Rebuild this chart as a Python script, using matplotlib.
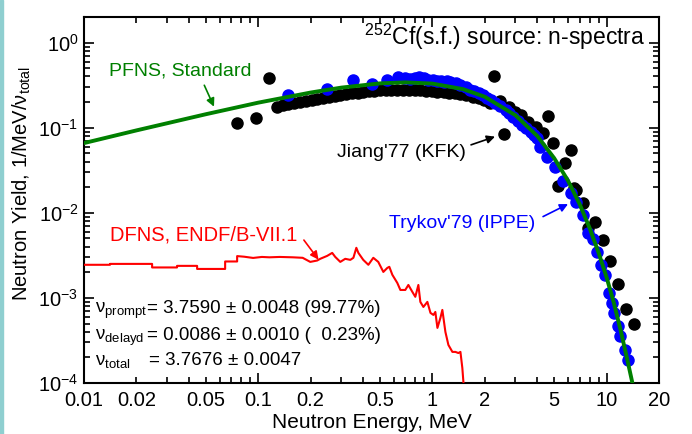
import matplotlib
matplotlib.use('Agg')
import matplotlib.pyplot as plt
from matplotlib.patches import Rectangle
from matplotlib.ticker import FixedLocator, FuncFormatter, LogLocator

plt.rcParams['font.family'] = ['Liberation Sans', 'DejaVu Sans']
plt.rcParams['mathtext.fontset'] = 'custom'
plt.rcParams['mathtext.rm'] = 'Liberation Sans'
plt.rcParams['mathtext.default'] = 'regular'

# PFNS standard
pfns_e = [0.01, 0.02, 0.05, 0.1, 0.2, 0.3, 0.5, 0.7, 1.0, 1.5, 2.0, 3.0, 4.0, 5.0,
          6.0, 7.0, 8.0, 9.0, 10.0, 11.0, 12.0, 13.0, 14.0, 14.5]
pfns_y = [0.066, 0.093, 0.144, 0.197, 0.259, 0.296, 0.332, 0.341, 0.330, 0.284,
          0.231, 0.140, 0.080, 0.044, 0.024, 0.0127, 0.0066, 0.0034, 0.00175,
          0.00088, 0.00043, 0.00021, 0.000105, 0.00007]

# DFNS, ENDF/B-VII.1 (red)
dfns_e = [0.01, 0.0141, 0.0141, 0.0246, 0.0246, 0.0342, 0.0342, 0.0446, 0.0446,
          0.0646, 0.0646, 0.0757, 0.0757, 0.083, 0.0935, 0.105, 0.116, 0.133, 0.158,
          0.180, 0.199, 0.218, 0.227, 0.249, 0.266, 0.277, 0.296, 0.316, 0.338,
          0.352, 0.366, 0.376, 0.401, 0.429, 0.458, 0.489, 0.523, 0.551, 0.566,
          0.589, 0.629, 0.655, 0.699, 0.728, 0.767, 0.798, 0.831, 0.853, 0.888,
          0.936, 0.975, 1.014, 1.040, 1.069, 1.112, 1.141, 1.188, 1.236, 1.303,
          1.356, 1.410, 1.449, 1.486, 1.507, 1.52]
dfns_y = [0.00245, 0.00245, 0.00251, 0.00251, 0.00228, 0.00228, 0.00238, 0.00238,
          0.00219, 0.00219, 0.00268, 0.00268, 0.00310, 0.00305, 0.00295, 0.00303,
          0.00300, 0.00303, 0.00300, 0.00296, 0.00265, 0.00275, 0.00288, 0.00312,
          0.00338, 0.00303, 0.00265, 0.00288, 0.00280, 0.00296, 0.00388, 0.00338,
          0.00280, 0.00245, 0.00296, 0.00265, 0.00202, 0.00225, 0.00232, 0.00187,
          0.00150, 0.00124, 0.00124, 0.00142, 0.00118, 0.00103, 0.00142, 0.000898,
          0.000783, 0.000898, 0.000667, 0.000631, 0.000684, 0.000444, 0.000582,
          0.000723, 0.000398, 0.00028, 0.000232, 0.000232, 0.000225, 0.000232,
          0.00015, 0.000103, 0.00009]

# Jiang'77 (KFK), black points
jiang_e = [0.0757, 0.0974, 0.1156, 0.128, 0.138, 0.149, 0.161, 0.174, 0.188, 0.203,
           0.219, 0.236, 0.255, 0.275, 0.296, 0.32, 0.345, 0.372, 0.40, 0.43, 0.465,
           0.50, 0.54, 0.58, 0.63, 0.68, 0.73, 0.79, 0.853, 0.92, 0.99, 1.07, 1.16,
           1.25, 1.35, 1.45, 1.57, 1.70, 1.84, 1.99, 2.15, 2.27, 2.46, 2.59, 2.75,
           3.0, 3.21, 3.56, 3.91, 4.29, 4.64, 4.90, 5.23, 5.81, 6.21, 6.46, 6.7,
           7.28, 7.78, 8.64, 9.48, 10.5, 11.6, 12.9, 14.3]
jiang_y = [0.115, 0.131, 0.388, 0.177, 0.184, 0.19, 0.196, 0.202, 0.208, 0.214,
           0.22, 0.226, 0.232, 0.238, 0.244, 0.249, 0.254, 0.259, 0.264, 0.268,
           0.272, 0.276, 0.278, 0.28, 0.281, 0.281, 0.28, 0.278, 0.275, 0.272,
           0.269, 0.266, 0.262, 0.258, 0.254, 0.249, 0.241, 0.232, 0.222, 0.21,
           0.197, 0.409, 0.205, 0.085, 0.175, 0.155, 0.142, 0.118, 0.103, 0.0873,
           0.138, 0.0667, 0.0208, 0.0387, 0.0551, 0.0197, 0.0185, 0.0131, 0.00667,
           0.00784, 0.00481, 0.00272, 0.00146, 0.00074, 0.000494]

# Trykov'79 (IPPE), blue points
trykov_e = [0.149, 0.249, 0.351, 0.452, 0.551, 0.638, 0.70, 0.748, 0.80, 0.842,
            0.90, 0.948, 1.01, 1.07, 1.12, 1.16, 1.22, 1.27, 1.36, 1.45, 1.55, 1.65,
            1.74, 1.84, 1.95, 2.07, 2.18, 2.30, 2.46, 2.63, 2.77, 2.92, 3.10, 3.29,
            3.47, 3.66, 3.83, 4.01, 4.17, 4.58, 5.09, 5.62, 6.21, 6.64, 7.28, 7.78,
            8.31, 8.77, 9.24, 9.74, 10.3, 10.7, 11.1, 11.7, 12.0, 12.7, 13.2]
trykov_y = [0.244, 0.288, 0.367, 0.33, 0.367, 0.398, 0.385, 0.377, 0.385, 0.398,
            0.38, 0.367, 0.36, 0.357, 0.35, 0.348, 0.35, 0.348, 0.335, 0.32, 0.30,
            0.28, 0.27, 0.258, 0.24, 0.226, 0.21, 0.197, 0.18, 0.163, 0.148, 0.135,
            0.12, 0.108, 0.098, 0.0898, 0.082, 0.0762, 0.0597, 0.0456, 0.0348,
            0.0238, 0.0172, 0.0135, 0.00947, 0.00582, 0.00494, 0.00348, 0.00245,
            0.00187, 0.00115, 0.00087, 0.00067, 0.00047, 0.000357, 0.000244, 0.000187]

x_labels = {0.01: '0.01', 0.02: '0.02', 0.05: '0.05', 0.1: '0.1', 0.2: '0.2',
            0.5: '0.5', 1.0: '1', 2.0: '2', 5.0: '5', 10.0: '10', 20.0: '20'}

fig = plt.figure(figsize=(6.92, 4.34), dpi=100)
ax = fig.add_axes([0.1214, 0.1175, 0.8309, 0.8433])

# thin coloured strip on the left edge of the picture
fig.patches.append(Rectangle((0, 0), 3 / 692, 1, transform=fig.transFigure,
                             color='#8fcfd0', zorder=0))

ax.plot(jiang_e, jiang_y, 'o', color='black', ms=8, zorder=2)
ax.plot(trykov_e, trykov_y, 'o', color='#0000ff', ms=8, zorder=3)
ax.plot(dfns_e, dfns_y, color='#ff0000', lw=1.5, zorder=4)
ax.plot(pfns_e, pfns_y, color='#008000', lw=2.8, zorder=5)

ax.set_xscale('log')
ax.set_yscale('log')
ax.set_xlim(0.01, 20)
ax.set_ylim(1e-4, 2)

ax.xaxis.set_major_locator(FixedLocator([0.01, 0.1, 1, 10]))
ax.xaxis.set_major_formatter(FuncFormatter(lambda v, p: x_labels.get(round(v, 4), '')))
ax.xaxis.set_minor_locator(LogLocator(base=10, subs=range(2, 10), numticks=20))
ax.xaxis.set_minor_formatter(FuncFormatter(lambda v, p: x_labels.get(round(v, 4), '')))
ax.yaxis.set_minor_locator(LogLocator(base=10, subs=range(2, 10), numticks=20))

ax.tick_params(which='both', direction='in', top=True, right=True, labelsize=14.5, width=1.2)
ax.tick_params(which='major', length=7)
ax.tick_params(which='minor', length=4)
ax.tick_params(axis='x', which='both', pad=6)
ax.tick_params(axis='y', which='both', pad=4)
for s in ax.spines.values():
    s.set_linewidth(1.5)

ax.set_xlabel('Neutron Energy, MeV', fontsize=15)
ax.xaxis.set_label_coords(0.5, -0.082)
ax.set_ylabel('Neutron Yield, 1/MeV/ν$_{\\mathrm{total}}$', fontsize=14.5)
ax.yaxis.set_label_coords(-0.088, 0.545)

ax.text(0.976, 0.9235, '$^{252}$Cf(s.f.) source: n-spectra', transform=ax.transAxes,
        ha='right', va='baseline', fontsize=16.5)

arrow = dict(arrowstyle='-|>', lw=1.2, mutation_scale=12)
ax.text(0.0356, 0.469, 'PFNS, Standard', color='#008000', fontsize=14, ha='center', va='center')
ax.annotate('', xy=(0.0566, 0.165), xytext=(0.0483, 0.338),
            arrowprops=dict(arrow, color='#008000'))

ax.text(1.567, 0.0508, "Jiang'77 (KFK)", color='black', fontsize=14, ha='right', va='center')
ax.annotate('', xy=(2.37, 0.0805), xytext=(1.61, 0.0614),
            arrowprops=dict(arrow, color='black'))

ax.text(3.91, 0.00743, "Trykov'79 (IPPE)", color='#0000ff', fontsize=14, ha='right', va='center')
ax.annotate('', xy=(6.21, 0.0131), xytext=(4.18, 0.00873),
            arrowprops=dict(arrow, color='#0000ff'))

ax.text(0.0141, 0.00551, 'DFNS, ENDF/B-VII.1', color='#ff0000', fontsize=14.5, ha='left', va='center')
ax.annotate('', xy=(0.227, 0.00265), xytext=(0.179, 0.00508),
            arrowprops=dict(arrow, color='#ff0000'))

# multiplicities
ax.text(0.0115, 6.67e-4, 'ν$_{\\mathrm{prompt}}$', fontsize=13.5, va='baseline')
ax.text(0.023, 6.67e-4, '= 3.7590 ± 0.0048 (99.77%)', fontsize=13.5, va='baseline')
ax.text(0.0115, 3.2e-4, 'ν$_{\\mathrm{delayd}}$', fontsize=13.5, va='baseline')
ax.text(0.023, 3.2e-4, '= 0.0086 ± 0.0010 (  0.23%)', fontsize=13.5, va='baseline')
ax.text(0.0115, 1.63e-4, 'ν$_{\\mathrm{total}}$', fontsize=13.5, va='baseline')
ax.text(0.0235, 1.63e-4, '= 3.7676 ± 0.0047', fontsize=13.5, va='baseline')

fig.savefig('out.png', dpi=100)
